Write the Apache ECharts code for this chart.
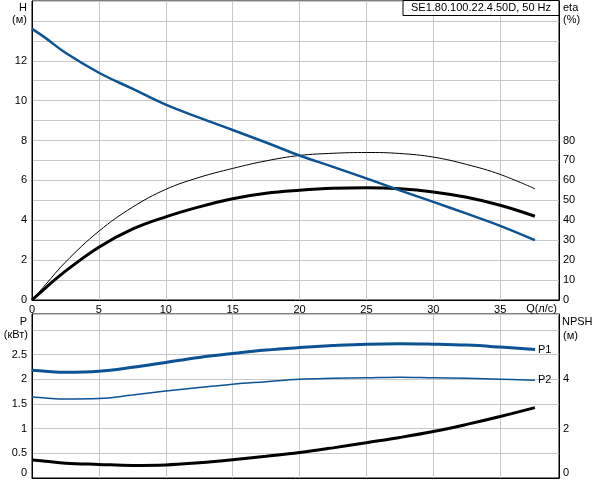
<!DOCTYPE html>
<html>
<head>
<meta charset="utf-8">
<script src="https://cdn.jsdelivr.net/npm/echarts@6/dist/echarts.min.js"></script>
<style>
  html, body { margin: 0; padding: 0; background: #fff; }
  #main { width: 592px; height: 480px; }
</style>
</head>
<body>
<div id="main"></div>
<script>
// расход, л/с
const flow = [0, 1, 2.5, 5, 7.5, 10, 12.5, 15, 17.5, 20, 22.5, 25, 27.5, 30, 32.5, 35, 37.6];
// напор H, м
const head = [13.6, 13.15, 12.4, 11.4, 10.6, 9.8, 9.15, 8.53, 7.9, 7.25, 6.68, 6.1, 5.5, 4.92, 4.33, 3.72, 3.0];
// КПД, %
const etaPump = [0, 7.6, 19, 34.5, 46.5, 55.5, 61.5, 66, 69.8, 72.5, 73.6, 74, 73.5, 71.7, 68, 63, 55.8];
const etaTotal = [0, 6, 14.5, 26.5, 35.5, 41.7, 46.7, 50.8, 53.5, 55, 56, 56.3, 55.8, 54.2, 51.5, 47.5, 42];
// мощность, кВт
const p1 = [2.18, 2.16, 2.14, 2.16, 2.24, 2.34, 2.44, 2.52, 2.59, 2.64, 2.68, 2.71, 2.72, 2.71, 2.69, 2.65, 2.6];
const p2 = [1.64, 1.62, 1.6, 1.61, 1.68, 1.76, 1.83, 1.9, 1.95, 2.0, 2.02, 2.03, 2.04, 2.03, 2.02, 2.0, 1.98];
// NPSH, м
const npsh = [0.73, 0.68, 0.6, 0.55, 0.51, 0.53, 0.62, 0.74, 0.88, 1.03, 1.22, 1.43, 1.64, 1.88, 2.17, 2.49, 2.85];

// подписи делений
const qTicks = [0, 5, 10, 15, 20, 25, 30, 35];
const hTicks = [0, 2, 4, 6, 8, 10, 12];
const etaTicks = [0, 10, 20, 30, 40, 50, 60, 70, 80];
const pTicks = [0, 0.5, 1, 1.5, 2, 2.5];
const npshTicks = [0, 2, 4];

const title = 'SE1.80.100.22.4.50D, 50 Hz';

const BLUE = '#0b5394';
const GRID = '#c8c8c8';
const FONT = 'Arial, "Liberation Sans", sans-serif';

let pairs = function (ys) {
    let out = [];
    for (let i = 0; i < flow.length; i++) {
        out.push([flow[i], ys[i]]);
    }
    return out;
};
let only = function (list) {
    return function (v) {
        for (let i = 0; i < list.length; i++) {
            if (Math.abs(list[i] - v) < 1e-6) return String(list[i]);
        }
        return '';
    };
};

let label = { color: '#000', fontSize: 11, fontFamily: FONT };
let axisLine = { show: true, lineStyle: { color: '#000', width: 1 } };

let myChart = echarts.init(document.getElementById('main'));

let option = {
    animation: false,
    backgroundColor: '#fff',
    grid: [
        { left: 32, right: 33, top: 1, bottom: 180, show: true, borderColor: '#000', borderWidth: 1 },
        { left: 32, right: 33, top: 314, bottom: 2, show: true, borderColor: '#000', borderWidth: 1 }
    ],
    xAxis: [
        {
            type: 'value', gridIndex: 0, min: 0, max: 39.4, interval: 5,
            axisLine: axisLine, axisTick: { show: false },
            axisLabel: Object.assign({ margin: 4, formatter: only(qTicks), showMaxLabel: false }, label),
            splitLine: { show: true, lineStyle: { color: GRID, width: 1 } }
        },
        {
            type: 'value', gridIndex: 1, min: 0, max: 39.4, interval: 5,
            axisLine: axisLine, axisTick: { show: false }, axisLabel: { show: false },
            splitLine: { show: true, lineStyle: { color: GRID, width: 1 } }
        }
    ],
    yAxis: [
        {
            type: 'value', gridIndex: 0, min: 0, max: 15, interval: 1,
            axisLine: axisLine, axisTick: { show: false },
            axisLabel: Object.assign({ margin: 5, formatter: only(hTicks) }, label),
            splitLine: { show: true, lineStyle: { color: GRID, width: 1 } }
        },
        {
            type: 'value', gridIndex: 0, position: 'right', min: 0, max: 150, interval: 10,
            axisLine: axisLine, axisTick: { show: false },
            axisLabel: Object.assign({ margin: 4, formatter: only(etaTicks) }, label),
            splitLine: { show: false }
        },
        {
            type: 'value', gridIndex: 1, min: 0, max: 3.32, interval: 0.5,
            axisLine: axisLine, axisTick: { show: false },
            axisLabel: Object.assign({ margin: 5, formatter: only(pTicks), showMaxLabel: false,
                verticalAlignMinLabel: 'bottom' }, label),
            splitLine: { show: true, lineStyle: { color: GRID, width: 1 } }
        },
        {
            type: 'value', gridIndex: 1, position: 'right', min: 0, max: 6.64, interval: 2,
            axisLine: axisLine, axisTick: { show: false },
            axisLabel: Object.assign({ margin: 4, formatter: only(npshTicks), showMaxLabel: false,
                verticalAlignMinLabel: 'bottom' }, label),
            splitLine: { show: false }
        }
    ],
    series: [
        {
            name: 'eta', type: 'line', xAxisIndex: 0, yAxisIndex: 1, data: pairs(etaPump),
            smooth: 0.4, showSymbol: false, lineStyle: { color: '#000', width: 1 }, z: 2
        },
        {
            name: 'eta tot', type: 'line', xAxisIndex: 0, yAxisIndex: 1, data: pairs(etaTotal),
            smooth: 0.4, showSymbol: false, lineStyle: { color: '#000', width: 3 }, z: 3
        },
        {
            name: 'H', type: 'line', xAxisIndex: 0, yAxisIndex: 0, data: pairs(head),
            smooth: 0.4, showSymbol: false, lineStyle: { color: BLUE, width: 2.5 }, z: 4
        },
        {
            name: 'P1', type: 'line', xAxisIndex: 1, yAxisIndex: 2, data: pairs(p1),
            smooth: 0.4, showSymbol: false, lineStyle: { color: BLUE, width: 3 },
            endLabel: Object.assign({ show: true, formatter: 'P1', distance: 3 }, label)
        },
        {
            name: 'P2', type: 'line', xAxisIndex: 1, yAxisIndex: 2, data: pairs(p2),
            smooth: 0.4, showSymbol: false, lineStyle: { color: BLUE, width: 1.5 },
            endLabel: Object.assign({ show: true, formatter: 'P2', distance: 3 }, label)
        },
        {
            name: 'NPSH', type: 'line', xAxisIndex: 1, yAxisIndex: 3, data: pairs(npsh),
            smooth: 0.4, showSymbol: false, lineStyle: { color: '#000', width: 3 }
        }
    ],
    graphic: [
        // рамка с названием насоса
        { type: 'rect', shape: { x: 403, y: 0.5, width: 156, height: 15 },
          style: { fill: '#fff', stroke: '#000', lineWidth: 1 }, z: 100 },
        { type: 'text', x: 481, y: 8, z: 101,
          style: { text: title, fill: '#000', font: '11px ' + FONT, textAlign: 'center', textVerticalAlign: 'middle' } },
        // названия осей
        { type: 'text', x: 27, y: 8, style: { text: 'H', fill: '#000', font: '11px ' + FONT, textAlign: 'right', textVerticalAlign: 'middle' } },
        { type: 'text', x: 27, y: 20, style: { text: '(м)', fill: '#000', font: '11px ' + FONT, textAlign: 'right', textVerticalAlign: 'middle' } },
        { type: 'text', x: 563, y: 8, style: { text: 'eta', fill: '#000', font: '11px ' + FONT, textAlign: 'left', textVerticalAlign: 'middle' } },
        { type: 'text', x: 563, y: 20, style: { text: '(%)', fill: '#000', font: '11px ' + FONT, textAlign: 'left', textVerticalAlign: 'middle' } },
        { type: 'text', x: 557, y: 309, style: { text: 'Q(л/с)', fill: '#000', font: '11px ' + FONT, textAlign: 'right', textVerticalAlign: 'middle' } },
        { type: 'text', x: 27, y: 322, style: { text: 'P', fill: '#000', font: '11px ' + FONT, textAlign: 'right', textVerticalAlign: 'middle' } },
        { type: 'text', x: 28, y: 335, style: { text: '(кВт)', fill: '#000', font: '11px ' + FONT, textAlign: 'right', textVerticalAlign: 'middle' } },
        { type: 'text', x: 562, y: 322, style: { text: 'NPSH', fill: '#000', font: '11px ' + FONT, textAlign: 'left', textVerticalAlign: 'middle' } },
        { type: 'text', x: 563, y: 336, style: { text: '(м)', fill: '#000', font: '11px ' + FONT, textAlign: 'left', textVerticalAlign: 'middle' } }
    ]
};

myChart.setOption(option);
</script>
</body>
</html>
